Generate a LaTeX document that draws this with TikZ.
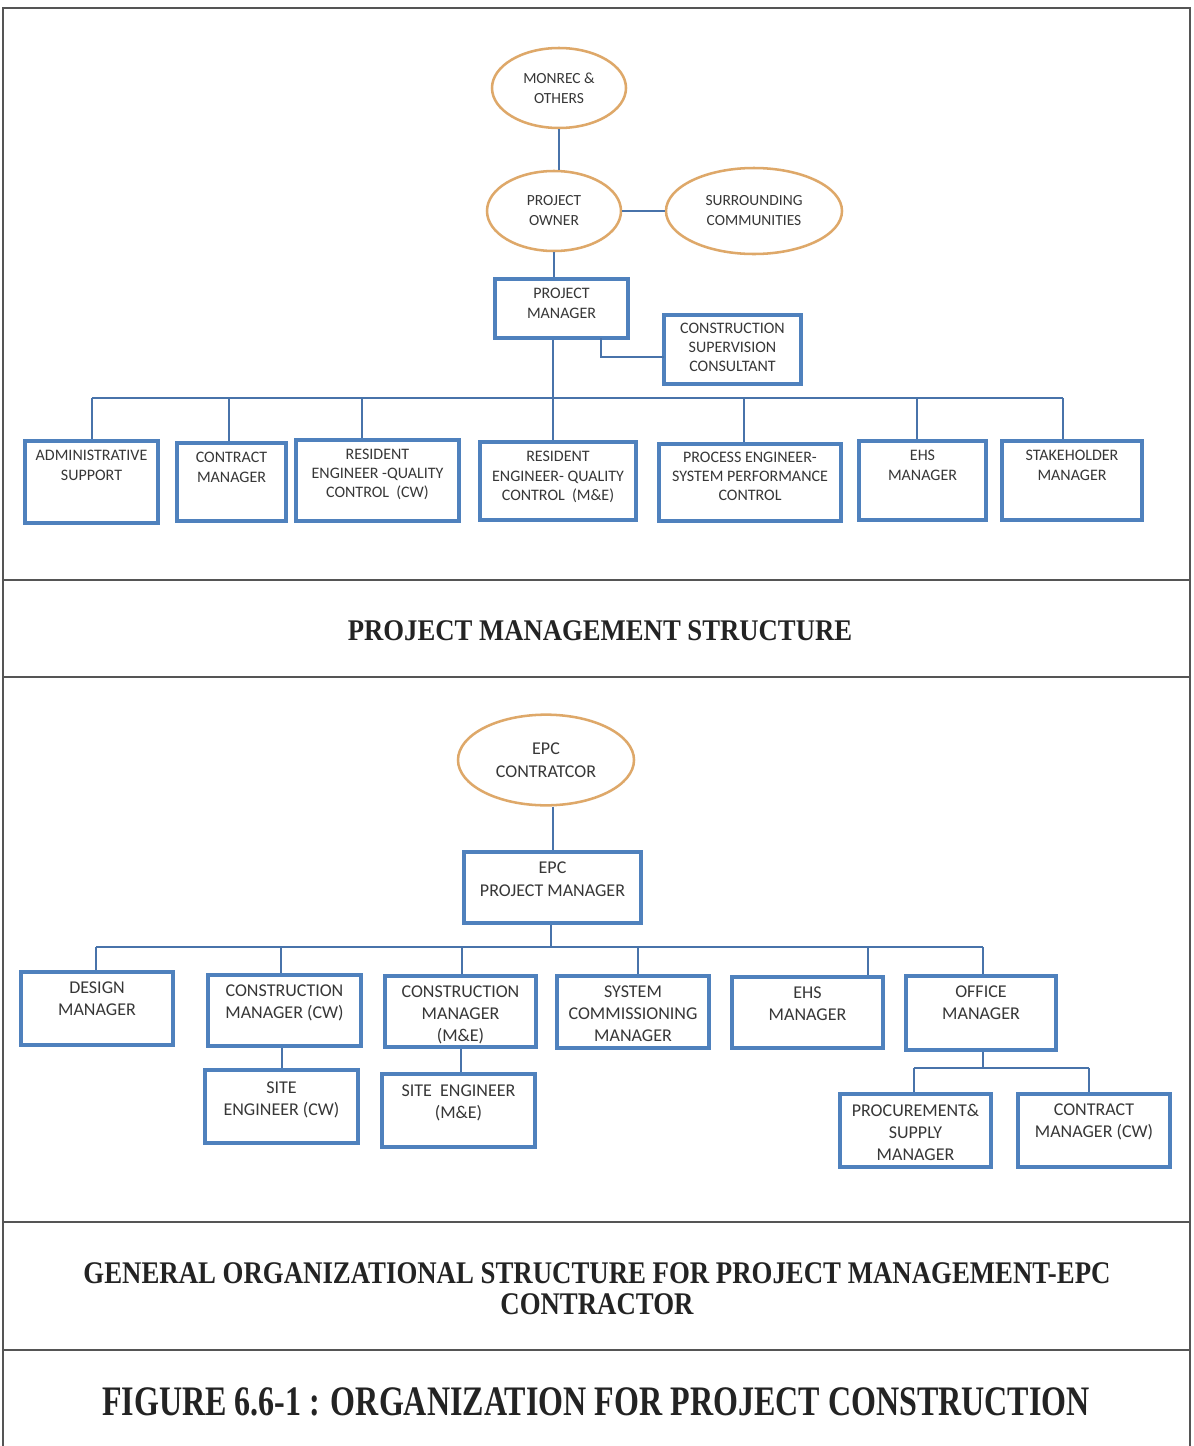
\documentclass[tikz,border=0pt]{standalone}
\usepackage{fontspec}
\setmainfont{Carlito}
\newfontfamily\ttlfont{Liberation Serif}
\usetikzlibrary{fit,shapes.geometric}
\definecolor{boxblue}{RGB}{79,129,189}
\definecolor{lineblue}{RGB}{72,115,170}
\definecolor{ellor}{RGB}{222,168,105}
\definecolor{txt}{RGB}{55,55,55}
\definecolor{ttlc}{RGB}{35,35,35}
\definecolor{frm}{RGB}{85,85,85}
\begin{document}
\begin{tikzpicture}[x=0.75pt,y=-0.75pt,
 box/.style={draw=boxblue, line width=2.4pt, inner sep=0pt, rectangle},
 conn/.style={draw=lineblue, line width=1.5pt},
 ell/.style={ellipse, draw=ellor, line width=1.9pt, inner sep=0pt, text=txt, align=center},
 ta/.style={anchor=north, inner sep=0pt, text=txt, align=center, font=\fontsize{12}{15}\selectfont},
 tb/.style={anchor=north, inner sep=0pt, text=txt, align=center, font=\fontsize{13.5}{16.5}\selectfont},
 ttl/.style={inner sep=0pt, text=ttlc, anchor=base},
 frame/.style={draw=frm, line width=1.2pt}]
\useasboundingbox[fill=white] (0,0) rectangle (1193,1446);

% frame
\draw[frame] (3,1446) -- (3,8) -- (1190,8) -- (1190,1446);
\draw[frame] (3,580) -- (1190,580);
\draw[frame] (3,677) -- (1190,677);
\draw[frame] (3,1222) -- (1190,1222);
\draw[frame] (3,1350) -- (1190,1350);

% ===== top section =====
\node[ell, minimum width=100.5pt, minimum height=60pt, font=\fontsize{11.6}{15}\selectfont] (mon) at (559,88) {MONREC \&\\OTHERS};
\node[ell, minimum width=100.5pt, minimum height=60pt, font=\fontsize{11.6}{15}\selectfont] (own) at (554,211) {PROJECT\\OWNER};
\node[ell, minimum width=132pt, minimum height=64.5pt, font=\fontsize{11.6}{15}\selectfont] (sur) at (754,211) {SURROUNDING\\COMMUNITIES};

\node[box, fit={(495,279) (628,338)}] (pm) {};
\node[ta] (pm-t) at ([yshift=-7.5pt]pm.north) {PROJECT\\MANAGER};
\node[box, fit={(664,315) (801,384)}] (csc) {};
\node[ta, font=\fontsize{12}{14.3}\selectfont] (csc-t) at ([yshift=-7pt]csc.north) {CONSTRUCTION\\SUPERVISION\\CONSULTANT};

\node[box, fit={(25,441) (158,523)}] (adm) {};
\node[ta] (adm-t) at ([yshift=-8pt]adm.north) {ADMINISTRATIVE\\SUPPORT};
\node[box, fit={(177,443) (286,521)}] (cm) {};
\node[ta] (cm-t) at ([yshift=-8pt]cm.north) {CONTRACT\\MANAGER};
\node[box, fit={(296,440) (459,521)}] (recw) {};
\node[ta, font=\fontsize{12}{14.3}\selectfont] (recw-t) at ([yshift=-7.5pt]recw.north) {RESIDENT\\ENGINEER -QUALITY\\CONTROL~ (CW)};
\node[box, fit={(480,442) (636,520)}] (reme) {};
\node[ta, font=\fontsize{12}{14.5}\selectfont] (reme-t) at ([yshift=-8pt]reme.north) {RESIDENT\\ENGINEER- QUALITY\\CONTROL~ (M\&E)};
\node[box, fit={(659,444) (841,521)}] (pe) {};
\node[ta, font=\fontsize{12}{14.3}\selectfont] (pe-t) at ([yshift=-7pt]pe.north) {PROCESS ENGINEER-\\SYSTEM PERFORMANCE\\CONTROL};
\node[box, fit={(859,441) (986,520)}] (ehs) {};
\node[ta] (ehs-t) at ([yshift=-7.5pt]ehs.north) {EHS\\MANAGER};
\node[box, fit={(1002,441) (1142,520)}] (stk) {};
\node[ta] (stk-t) at ([yshift=-7.5pt]stk.north) {STAKEHOLDER\\MANAGER};

% top connectors
\draw[conn] (mon.south) -- (mon.south |- own.north);
\draw[conn] (own.east) -- (sur.west);
\draw[conn] (own.south) -- (own.south |- pm.north);
\coordinate (pmcs) at (601,338);
\coordinate (csin) at (664,357);
\draw[conn] (pmcs) |- (csin);
\coordinate (hub1) at (553,398);
\draw[conn] (pm.south -| hub1) -- (hub1);
\coordinate (bA) at (92,398);
\coordinate (bB) at (229,398);
\coordinate (bC) at (362,398);
\coordinate (bD) at (553,398);
\coordinate (bE) at (744,398);
\coordinate (bF) at (917,398);
\coordinate (bG) at (1063,398);
\draw[conn] (bA) -- (bG);
\draw[conn] (bA) -- (bA |- adm.north);
\draw[conn] (bB) -- (bB |- cm.north);
\draw[conn] (bC) -- (bC |- recw.north);
\draw[conn] (bD) -- (bD |- reme.north);
\draw[conn] (bE) -- (bE |- pe.north);
\draw[conn] (bF) -- (bF |- ehs.north);
\draw[conn] (bG) -- (bG |- stk.north);

% title 1
\node[ttl, font=\fontsize{22.5}{27}\ttlfont\bfseries] (ttl1) at (600,640) {\scalebox{0.89}[1]{PROJECT MANAGEMENT STRUCTURE}};

% ===== bottom section =====
\node[ell, minimum width=132pt, minimum height=68pt, font=\fontsize{13.5}{17}\selectfont] (epc) at (546,760) {EPC\\CONTRATCOR};
\node[box, fit={(464,852) (641,923)}] (epm) {};
\node[tb, font=\fontsize{13.5}{17}\selectfont] (epm-t) at ([yshift=-8.4pt]epm.north) {EPC\\PROJECT MANAGER};

\node[box, fit={(21,972) (173,1045)}] (des) {};
\node[tb] (des-t) at ([yshift=-8.4pt]des.north) {DESIGN\\MANAGER};
\node[box, fit={(208,975) (361,1046)}] (cmcw) {};
\node[tb] (cmcw-t) at ([yshift=-8pt]cmcw.north) {CONSTRUCTION\\MANAGER (CW)};
\node[box, fit={(385,976) (536,1047)}] (cmme) {};
\node[tb] (cmme-t) at ([yshift=-8.4pt]cmme.north) {CONSTRUCTION\\MANAGER\\(M\&E)};
\node[box, fit={(557,976) (709,1048)}] (sys) {};
\node[tb] (sys-t) at ([yshift=-8.4pt]sys.north) {SYSTEM\\COMMISSIONING\\MANAGER};
\node[box, fit={(732,977) (883,1048)}] (ehs2) {};
\node[tb] (ehs2-t) at ([yshift=-8.4pt]ehs2.north) {EHS\\MANAGER};
\node[box, fit={(906,976) (1056,1050)}] (off) {};
\node[tb] (off-t) at ([yshift=-8.4pt]off.north) {OFFICE\\MANAGER};

\node[box, fit={(205,1070) (358,1143)}] (secw) {};
\node[tb] (secw-t) at ([yshift=-9.6pt]secw.north) {SITE\\ENGINEER (CW)};
\node[box, fit={(382,1074) (535,1147)}] (seme) {};
\node[tb] (seme-t) at ([yshift=-9pt]seme.north) {SITE~ ENGINEER\\(M\&E)};
\node[box, fit={(840,1094) (991,1167)}] (proc) {};
\node[tb] (proc-t) at ([yshift=-8.4pt]proc.north) {PROCUREMENT\&\\SUPPLY\\MANAGER};
\node[box, fit={(1018,1094) (1170,1167)}] (cmcw2) {};
\node[tb] (cmcw2-t) at ([yshift=-8.4pt]cmcw2.north) {CONTRACT\\MANAGER (CW)};

% bottom connectors
\draw[conn] (epm.north |- epc.south) -- (epm.north);
\coordinate (hub2) at (551,947);
\draw[conn] (epm.south -| hub2) -- (hub2);
\coordinate (cA) at (96,947);
\coordinate (cB) at (281,947);
\coordinate (cC) at (462,947);
\coordinate (cD) at (638,947);
\coordinate (cE) at (868,947);
\coordinate (cF) at (983,947);
\draw[conn] (cA) -- (cF);
\draw[conn] (cA) -- (cA |- des.north);
\draw[conn] (cB) -- (cB |- cmcw.north);
\draw[conn] (cC) -- (cC |- cmme.north);
\draw[conn] (cD) -- (cD |- sys.north);
\draw[conn] (cE) -- (cE |- ehs2.north);
\draw[conn] (cF) -- (cF |- off.north);
\draw[conn] (secw.north |- cmcw.south) -- (secw.north);
\draw[conn] (cmme.south) -- (cmme.south |- seme.north);
\coordinate (hub3) at (983,1068);
\draw[conn] (off.south -| hub3) -- (hub3);
\coordinate (dA) at (914,1068);
\coordinate (dB) at (1089,1068);
\draw[conn] (dA) -- (dB);
\draw[conn] (dA) -- (dA |- proc.north);
\draw[conn] (dB) -- (dB |- cmcw2.north);

% titles 2 and 3
\node[ttl, font=\fontsize{23.6}{28}\ttlfont\bfseries] (ttl2a) at (597,1283) {\scalebox{0.852}[1]{GENERAL ORGANIZATIONAL STRUCTURE FOR PROJECT MANAGEMENT-EPC}};
\node[ttl, font=\fontsize{23.6}{28}\ttlfont\bfseries] (ttl2b) at (597,1314) {\scalebox{0.852}[1]{CONTRACTOR}};
\node[ttl, font=\fontsize{31.5}{36}\ttlfont\bfseries] (ttl3) at (596,1415) {\scalebox{0.763}[1]{FIGURE 6.6-1 : ORGANIZATION FOR PROJECT CONSTRUCTION}};
\end{tikzpicture}
\end{document}
